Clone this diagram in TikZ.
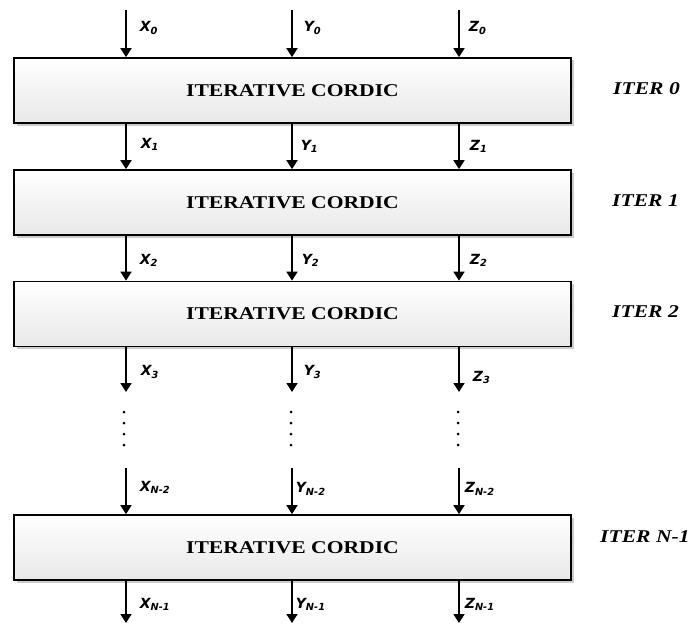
\documentclass[tikz,border=0pt]{standalone}
\usepackage{fontspec}
\setmainfont{Liberation Serif}
\newfontfamily\labfont{DejaVu Sans}
\newfontfamily\boxfont[FakeStretch=1.2]{Liberation Serif}
\usetikzlibrary{arrows.meta,shadows}
\begin{document}
\begin{tikzpicture}[x=1pt,y=-1pt,
  cordic/.style={draw, line width=1.7pt, minimum width=557pt, minimum height=65pt, inner sep=0pt,
    top color=white, bottom color=black!9,
    drop shadow={shadow xshift=2.5pt, shadow yshift=-2.5pt, opacity=0.2, fill=black},
    font=\boxfont\bfseries\fontsize{18}{20}\selectfont},
  arr/.style={line width=1.7pt, -{Triangle[width=11pt,length=9pt]}},
  lab/.style={font=\labfont\bfseries\itshape\fontsize{14}{16}\selectfont, inner sep=0pt, anchor=west},
  iter/.style={font=\boxfont\bfseries\itshape\fontsize{18}{20}\selectfont, anchor=west, inner sep=0pt},
  vdot/.style={circle, fill, inner sep=0pt, minimum size=3pt}]
\useasboundingbox (0,0) rectangle (690,623);

% columns
\coordinate (tx) at (126,10);
\coordinate (ty) at (292,10);
\coordinate (tz) at (459,10);

% boxes
\node[cordic] (b1) at (292.5,90.5) {ITERATIVE CORDIC};
\node[cordic] (b2) at (292.5,202.5) {ITERATIVE CORDIC};
\node[cordic] (b3) at (292.5,314) {ITERATIVE CORDIC};
\node[cordic] (b4) at (292.5,547.5) {ITERATIVE CORDIC};

% iteration labels
\node[iter] (i0) at (613,89) {ITER 0};
\node[iter] (i1) at (612,201) {ITER 1};
\node[iter] (i2) at (612,312) {ITER 2};
\node[iter] (i3) at (600,537) {ITER N-1};

% inputs
\draw[arr] (tx) -- (b1.north -| tx) node[lab, pos=0.38, xshift=13pt] (lx0) {X\textsubscript{0}};
\draw[arr] (ty) -- (b1.north -| ty) node[lab, pos=0.38, xshift=11pt] (ly0) {Y\textsubscript{0}};
\draw[arr] (tz) -- (b1.north -| tz) node[lab, pos=0.38, xshift=9pt] (lz0) {Z\textsubscript{0}};

% b1 -> b2
\draw[arr] (b1.south -| tx) -- (b2.north -| tx) node[lab, pos=0.45, xshift=14pt] (lx1) {X\textsubscript{1}};
\draw[arr] (b1.south -| ty) -- (b2.north -| ty) node[lab, pos=0.5, xshift=8pt] (ly1) {Y\textsubscript{1}};
\draw[arr] (b1.south -| tz) -- (b2.north -| tz) node[lab, pos=0.5, xshift=10pt] (lz1) {Z\textsubscript{1}};

% b2 -> b3
\draw[arr] (b2.south -| tx) -- (b3.north -| tx) node[lab, pos=0.55, xshift=13pt] (lx2) {X\textsubscript{2}};
\draw[arr] (b2.south -| ty) -- (b3.north -| ty) node[lab, pos=0.55, xshift=9pt] (ly2) {Y\textsubscript{2}};
\draw[arr] (b2.south -| tz) -- (b3.north -| tz) node[lab, pos=0.55, xshift=10pt] (lz2) {Z\textsubscript{2}};

% b3 -> dots
\coordinate (ex) at (126,392);
\coordinate (ey) at (292,392);
\coordinate (ez) at (459,392);
\draw[arr] (b3.south -| ex) -- (ex) node[lab, pos=0.55, xshift=14pt] (lx3) {X\textsubscript{3}};
\draw[arr] (b3.south -| ey) -- (ey) node[lab, pos=0.55, xshift=11pt] (ly3) {Y\textsubscript{3}};
\draw[arr] (b3.south -| ez) -- (ez) node[lab, pos=0.68, xshift=13pt] (lz3) {Z\textsubscript{3}};

% vertical dots
\foreach \c/\x in {x/124,y/291,z/458}{
  \foreach \k/\y in {1/412,2/423,3/434,4/445}{
    \node[vdot] (d\c\k) at (\x,\y) {};
  }
}

% -> b4
\coordinate (sx) at (126,468);
\coordinate (sy) at (292,468);
\coordinate (sz) at (459,468);
\draw[arr] (sx) -- (b4.north -| sx) node[lab, pos=0.42, xshift=13pt] (lx4) {X\textsubscript{N-2}};
\draw[arr] (sy) -- (b4.north -| sy) node[lab, pos=0.45, xshift=3pt] (ly4) {Y\textsubscript{N-2}};
\draw[arr] (sz) -- (b4.north -| sz) node[lab, pos=0.45, xshift=5pt] (lz4) {Z\textsubscript{N-2}};

% outputs
\coordinate (ox) at (126,623);
\coordinate (oy) at (292,623);
\coordinate (oz) at (459,623);
\draw[arr] (b4.south -| ox) -- (ox) node[lab, pos=0.55, xshift=13pt] (lx5) {X\textsubscript{N-1}};
\draw[arr] (b4.south -| oy) -- (oy) node[lab, pos=0.55, xshift=3pt] (ly5) {Y\textsubscript{N-1}};
\draw[arr] (b4.south -| oz) -- (oz) node[lab, pos=0.55, xshift=5pt] (lz5) {Z\textsubscript{N-1}};
\end{tikzpicture}
\end{document}
